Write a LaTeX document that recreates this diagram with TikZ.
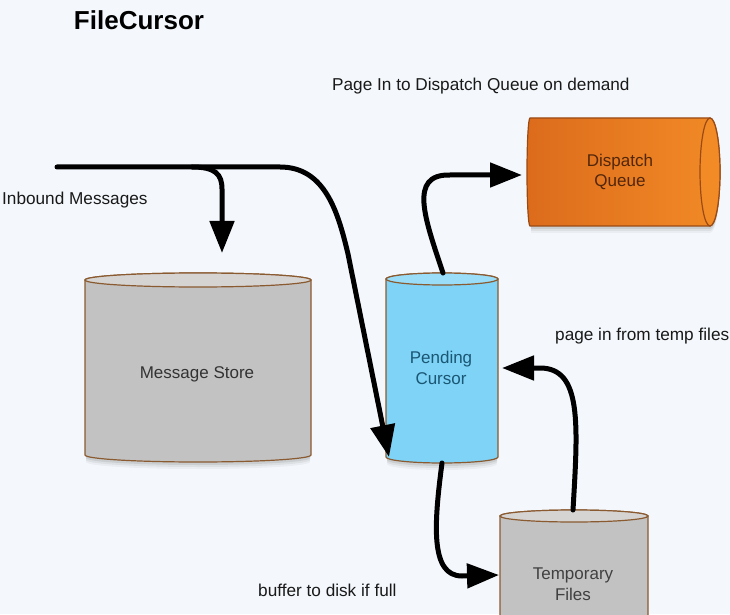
\documentclass[tikz,border=0pt]{standalone}
\usepackage{fontspec}
\setmainfont{Liberation Sans}
\usetikzlibrary{arrows.meta}
\definecolor{bg}{HTML}{F4F8FC}
\definecolor{rimc}{HTML}{8A5A30}
\definecolor{grayfill}{HTML}{C2C2C2}
\definecolor{graytop}{HTML}{D6D4D2}
\definecolor{bluefill}{HTML}{7ED3F7}
\definecolor{bluetop}{HTML}{9ADDF8}
\definecolor{orangeA}{HTML}{DC6C1C}
\definecolor{orangeB}{HTML}{F28A26}
\definecolor{orangeRim}{HTML}{9A4A14}
\definecolor{bluetext}{HTML}{1B5673}
\definecolor{browntext}{HTML}{52260A}
\newcommand\vcylinder[7]{%
  \pgfmathsetmacro\cylrx{(#2-#1)/2}%
  \pgfmathsetmacro\cylrxs{(#2-#1)/2-1}%
  \pgfmathsetmacro\cylcx{(#1+#2)/2}%
  \foreach \s/\o in {7/0.04,5/0.06,3/0.08}{%
    \fill[black,opacity=\o] (#1+1,#3-\s) -- (#1+1,#4-\s) arc[start angle=180,end angle=360,x radius=\cylrxs,y radius=#5] -- (#2-1,#3-\s) -- cycle;}
  \path[draw=rimc, line width=1.2pt, fill=#6] (#1,#3) -- (#1,#4) arc[start angle=180,end angle=360,x radius=\cylrx,y radius=#5] -- (#2,#3) arc[start angle=0,end angle=180,x radius=\cylrx,y radius=#5] -- cycle;
  \path[draw=rimc, line width=1.2pt, fill=#7] (\cylcx,#3) ellipse [x radius=\cylrx, y radius=#5];
}
\begin{document}
\begin{tikzpicture}[x=1pt,y=1pt,
  flow/.style={line width=5pt, line cap=round, -{Triangle[length=32pt,width=24pt]}},
  lbl/.style={font=\fontsize{17.2}{20}\selectfont, anchor=west, inner sep=0, text=black!90},
  inlbl/.style={font=\fontsize{17}{20.5}\selectfont, align=center, inner sep=0},
  title/.style={font=\fontsize{26}{30}\selectfont\bfseries, inner sep=0}]
\useasboundingbox (0,0) rectangle (730,614);
\fill[bg] (0,0) rectangle (730,614);
\clip (0,0) rectangle (730,614);

% cylinders
\vcylinder{85}{311}{334}{159}{7}{grayfill}{graytop}
\vcylinder{386}{498}{335}{157}{6}{bluefill}{bluetop}
\vcylinder{500}{648}{98}{-30}{6}{grayfill}{graytop}

% dispatch queue (horizontal)
\foreach \s/\o in {7/0.04,5/0.06,3/0.08}{%
  \fill[black,opacity=\o] (531,496-\s) -- (710,496-\s) arc[start angle=90,end angle=-90,x radius=10,y radius=54] -- (531,388-\s) -- cycle;}
\path[draw=orangeRim, line width=1.2pt, left color=orangeA, right color=orangeB]
  (530,496) -- (710,496) arc[start angle=90,end angle=-90,x radius=10,y radius=54]
  -- (530,388) arc[start angle=270,end angle=90,x radius=3,y radius=54] -- cycle;
\path[draw=orangeRim, line width=1.2pt, fill=orangeB] (710,442) ellipse [x radius=10, y radius=54];

% labels
\node[title] (ttl) at (139,594) {FileCursor};
\node[lbl] (lpage) at (332,528) {Page In to Dispatch Queue on demand};
\node[lbl] (linb) at (2,414) {Inbound Messages};
\node[lbl] (ltemp) at (555,278) {page in from temp files};
\node[lbl] (lbuf) at (258,24) {buffer to disk if full};
\node[inlbl, text=black!80] (ms) at (197,240) {Message Store};
\node[inlbl, text=bluetext] (pc) at (441,246) {Pending\\Cursor};
\node[inlbl, text=browntext] (dq) at (620,442) {Dispatch\\Queue};
\node[inlbl, text=black!75] (tf) at (573,30) {Temporary\\Files};

% connector end points
\coordinate (inStart) at (57,447);
\coordinate (split) at (192,447);
\coordinate (msTop) at (222,361);
\coordinate (pcIn) at (389,157);
\coordinate (pcTop) at (443,341);
\coordinate (dqLeft) at (522,439);
\coordinate (pcBottom) at (442,151);
\coordinate (tfLeft) at (499,39);
\coordinate (tfTop) at (573,104);
\coordinate (pcRight) at (502,246);

% connectors
\draw[flow] (inStart) -- (280,447) .. controls (325,447) and (338,402) .. (348,360) -- (pcIn);
\draw[flow] (split) .. controls (215,447) and (222,440) .. (222,425) -- (msTop);
\draw[flow] (pcTop) .. controls (425,395) and (408,440) .. (450,439) -- (dqLeft);
\draw[flow] (pcBottom) .. controls (434,90) and (430,38) .. (462,38) -- (tfLeft);
\draw[flow] (tfTop) .. controls (578,190) and (582,246) .. (540,246) -- (pcRight);
\end{tikzpicture}
\end{document}
